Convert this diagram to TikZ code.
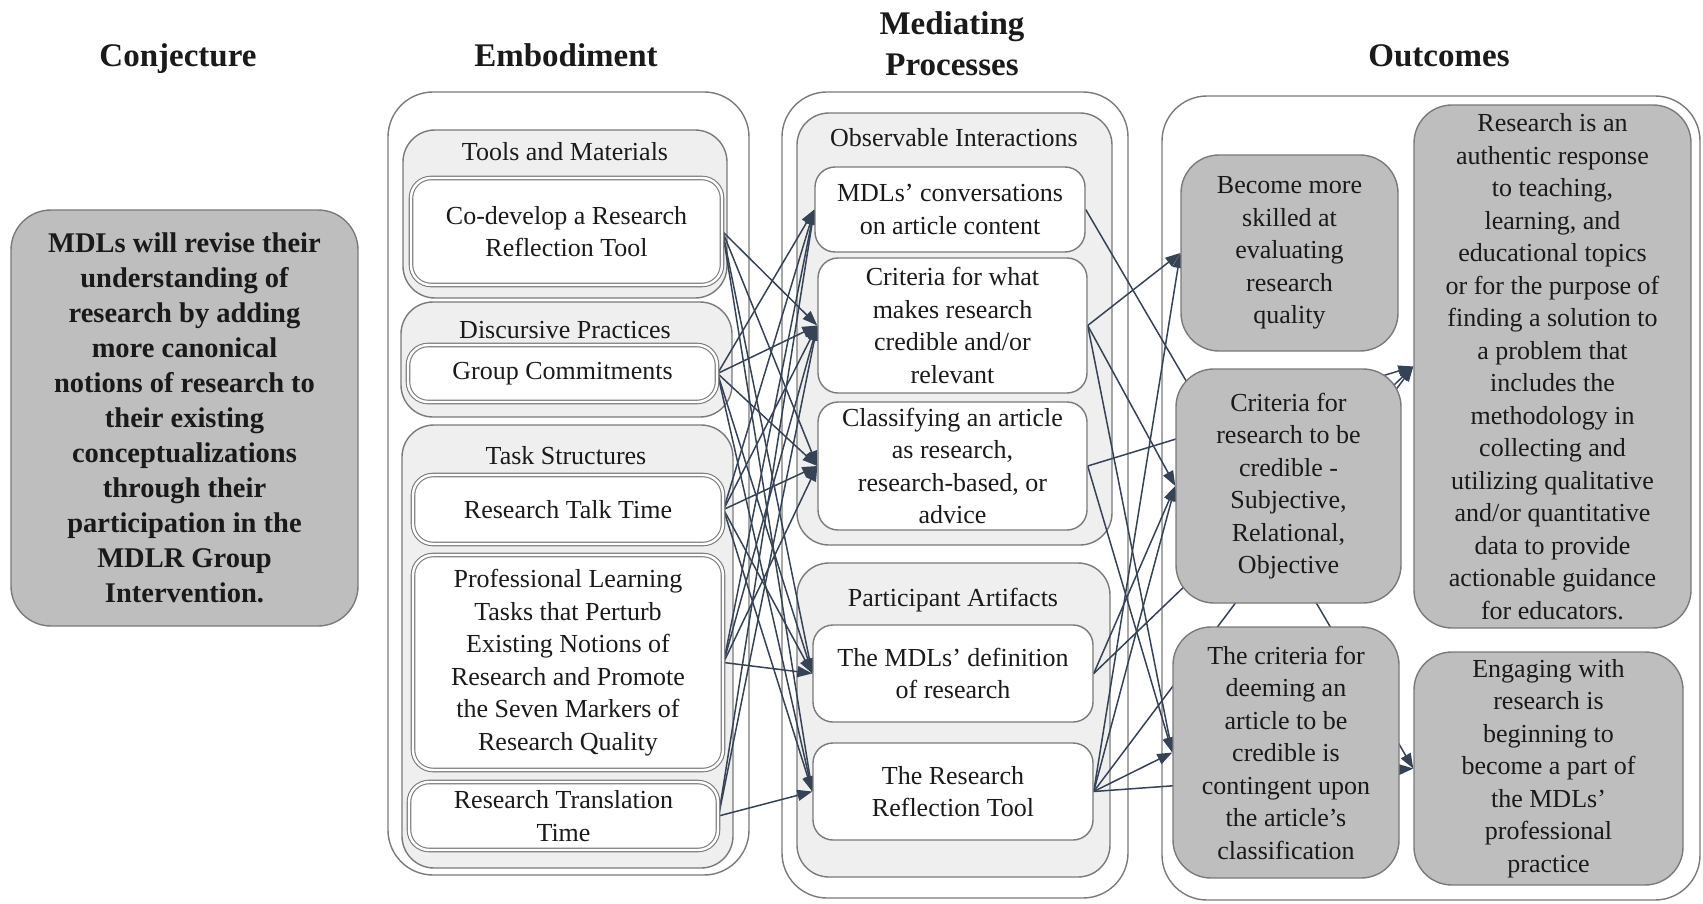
\documentclass[tikz,border=0pt]{standalone}
\usepackage{fontspec}
\setmainfont{Liberation Serif}
\usetikzlibrary{arrows.meta}

\pgfdeclarelayer{background}
\pgfdeclarelayer{links}
\pgfsetlayers{background,links,main}

\definecolor{linegray}{HTML}{7A7A7A}
\definecolor{groupfill}{HTML}{EFEFEF}
\definecolor{outfill}{HTML}{BEBEBE}
\definecolor{linkcol}{HTML}{364255}
\definecolor{txt}{HTML}{1A1A1A}

\tikzset{
  heading/.style={font=\fontsize{33}{41}\selectfont\bfseries, align=center, text=txt, anchor=base},
  colbox/.style={draw=linegray, line width=1.4pt, rounded corners=45pt},
  grpbox/.style={draw=linegray, line width=1.4pt, fill=groupfill, rounded corners=32pt},
  grptitle/.style={font=\fontsize{26}{32.5}\selectfont, text=txt},
  embnode/.style 2 args={draw=linegray, line width=1.1pt, double=white, double distance=2.4pt,
    fill=white, rounded corners=20pt, align=center, inner sep=0pt, text=txt,
    font=\fontsize{26}{32.5}\selectfont, minimum width=#1pt, minimum height=#2pt},
  mednode/.style 2 args={draw=linegray, line width=1.4pt, fill=white, rounded corners=20pt,
    align=center, inner sep=0pt, text=txt,
    font=\fontsize{26}{32.5}\selectfont, minimum width=#1pt, minimum height=#2pt},
  outnode/.style 2 args={draw=linegray, line width=1.4pt, fill=outfill, rounded corners=38pt,
    align=center, inner sep=0pt, text=txt,
    font=\fontsize{26}{32.5}\selectfont, minimum width=#1pt, minimum height=#2pt},
  conjnode/.style 2 args={draw=linegray, line width=1.4pt, fill=outfill, rounded corners=40pt,
    align=center, inner sep=0pt, text=txt,
    font=\fontsize{28.5}{35}\selectfont\bfseries, minimum width=#1pt, minimum height=#2pt},
  link/.style={color=linkcol, line width=1.5pt, -{Triangle[length=15pt,width=11pt]}}
}

\begin{document}
\begin{tikzpicture}[x=1pt,y=-1pt]
  \useasboundingbox (0,0) rectangle (1703,904);

  % column headings
  \node[heading] (hconj) at (178,67) {Conjecture};
  \node[heading] (hemb)  at (566,67) {Embodiment};
  \node[heading] (hmed)  at (952,76) {Mediating\\Processes};
  \node[heading] (hout)  at (1439,67) {Outcomes};

  % conjecture
  \node[conjnode={347}{416}] (conj) at (184.5,418) {MDLs will revise their\\understanding of\\research by adding\\more canonical\\notions of research to\\their existing\\conceptualizations\\through their\\participation in the\\MDLR Group\\Intervention.};

  % embodiment
  \node[grptitle] (ttools) at (565,152) {Tools and Materials};
  \node[embnode={311}{107}] (codev) at (566.5,231.5) {Co-develop a Research\\Reflection Tool};
  \node[grptitle] (tdisc) at (565,330) {Discursive Practices};
  \node[embnode={309}{57}] (commit) at (562.5,373.5) {Group Commitments};
  \node[grptitle] (ttask) at (566,456) {Task Structures};
  \node[embnode={310}{69}] (talk) at (568,509.5) {Research Talk Time};
  \node[embnode={310}{215}] (proflearn) at (568,662.5) {Professional Learning\\Tasks that Perturb\\Existing Notions of\\Research and Promote\\the Seven Markers of\\Research Quality};
  \node[embnode={309}{68}] (transl) at (563.5,816) {Research Translation\\Time};

  % mediating processes
  \node[grptitle] (tobs) at (954,138) {Observable Interactions};
  \node[mednode={270}{85}] (conv) at (950,209.5) {MDLs’ conversations\\on article content};
  \node[mednode={269}{135}] (critwhat) at (952.5,325.5) {Criteria for what\\makes research\\credible and/or\\relevant};
  \node[mednode={269}{128}] (classify) at (952.5,466) {Classifying an article\\as research,\\research-based, or\\advice};
  \node[grptitle] (tart) at (953,600) {Participant Artifacts};
  \node[mednode={280}{97}] (mdldef) at (953,673.5) {The MDLs’ definition\\of research};
  \node[mednode={280}{97}] (rrtool) at (953,791.5) {The Research\\Reflection Tool};

  % outcomes
  \node[outnode={217}{196}] (become) at (1289.5,253) {Become more\\skilled at\\evaluating\\research\\quality};
  \node[outnode={225}{234}] (critres) at (1288.5,486) {Criteria for\\research to be\\credible -\\Subjective,\\Relational,\\Objective};
  \node[outnode={226}{251}] (deeming) at (1286,752.5) {The criteria for\\deeming an\\article to be\\credible is\\contingent upon\\the article’s\\classification};
  \node[outnode={277}{523}] (authentic) at (1552.5,366.5) {Research is an\\authentic response\\to teaching,\\learning, and\\educational topics\\or for the purpose of\\finding a solution to\\a problem that\\includes the\\methodology in\\collecting and\\utilizing qualitative\\and/or quantitative\\data to provide\\actionable guidance\\for educators.};
  \node[outnode={269}{233}] (engaging) at (1548.5,768.5) {Engaging with\\research is\\beginning to\\become a part of\\the MDLs’\\professional\\practice};

  % column frames and groups
  \begin{pgfonlayer}{background}
    \draw[colbox] (388,92) rectangle (749,875);
    \draw[colbox] (782,92) rectangle (1128,898);
    \draw[colbox] (1162,96) rectangle (1700,900);
    \draw[grpbox] (403,130) rectangle (727,298);
    \draw[grpbox] (401,302) rectangle (732,417);
    \draw[grpbox] (402,425) rectangle (733,868);
    \draw[grpbox] (797,113) rectangle (1112,545);
    \draw[grpbox] (797,563) rectangle (1110,877);
  \end{pgfonlayer}

  % links, kept under the outcome boxes
  \begin{pgfonlayer}{links}
    \path[link] (codev.east) edge (critwhat.west) edge (classify.west) edge (mdldef.west) edge (rrtool.west);
    \path[link] (commit.east) edge (conv.west) edge (critwhat.west) edge (classify.west) edge (mdldef.west) edge (rrtool.west);
    \path[link] (talk.east) edge (conv.west) edge (critwhat.west) edge (classify.west) edge (mdldef.west) edge (rrtool.west);
    \path[link] (proflearn.east) edge (conv.west) edge (critwhat.west) edge (classify.west) edge (mdldef.west);
    \path[link] (transl.east) edge (conv.west) edge (critwhat.west) edge (rrtool.west);

    \path[link] (conv.east) edge (engaging.west);
    \path[link] (critwhat.east) edge (become.west) edge (critres.west) edge (deeming.west);
    \path[link] (classify.east) edge (authentic.west) edge (deeming.west);
    \path[link] (mdldef.east) edge (authentic.west) edge (critres.west);
    \path[link] (rrtool.east) edge (become.west) edge (critres.west) edge (authentic.west) edge (deeming.west) edge (engaging.west);
  \end{pgfonlayer}
\end{tikzpicture}
\end{document}
